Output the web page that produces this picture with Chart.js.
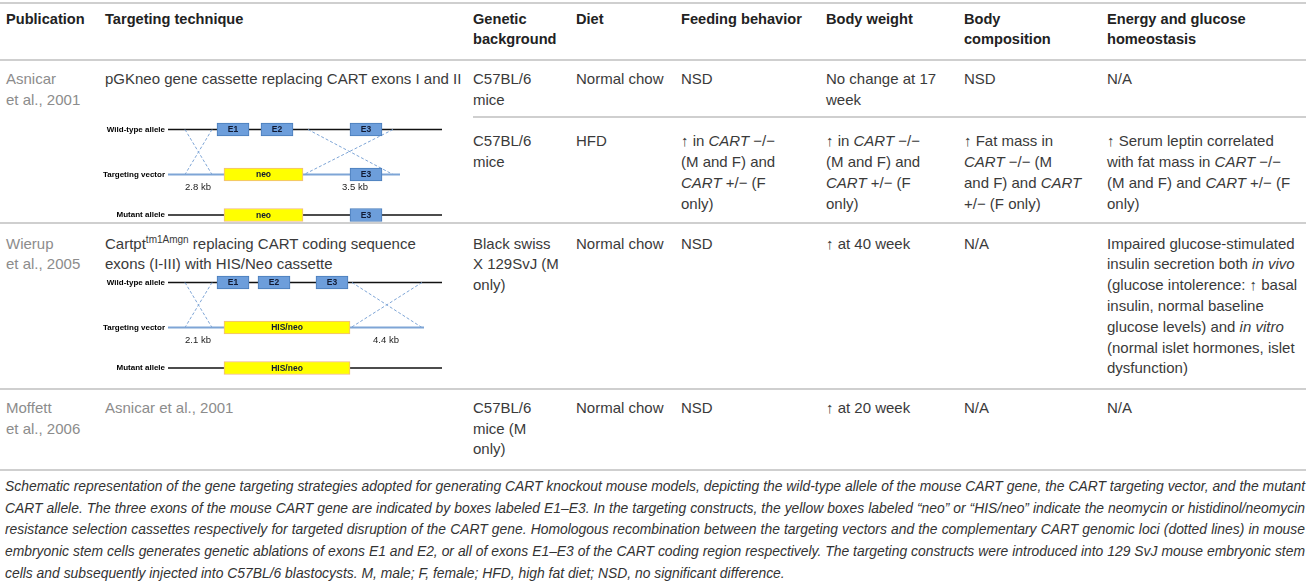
<!DOCTYPE html>
<html>
<head>
<meta charset="utf-8">
<script src="https://cdn.jsdelivr.net/npm/chart.js@4.4.0/dist/chart.umd.min.js"></script>
<style>
  body { margin: 0; background: #fff; width: 1308px; height: 583px; overflow: hidden;
         font-family: "Liberation Sans", Arial, sans-serif; color: #3a3a3a; }
  #page { position: relative; width: 1308px; height: 583px; }
  table { position: absolute; left: 0; top: 2px; width: 1306px; border-collapse: separate;
          border-spacing: 0; table-layout: fixed; font-size: 15px; line-height: 20.8px; }
  th, td { vertical-align: top; text-align: left; white-space: nowrap; padding: 0 6px 0 0;
           border-bottom: 2px solid #cfcfcf; }
  th { font-weight: bold; font-size: 14.6px; color: #222; border-top: 2px solid #cfcfcf; padding-top: 4.6px; }
  tr.hd { height: 59px; }
  tr.r1 { height: 57px; } tr.r1 td { padding-top: 7.9px; }
  tr.r2 { height: 106px; } tr.r2 td { padding-top: 13.3px; }
  tr.r3 { height: 166px; } tr.r3 td { padding-top: 9.6px; }
  tr.r4 { height: 81px; } tr.r4 td { padding-top: 7.9px; }
  .first { padding-left: 6px; }
  .pub { color: #8c8c8c; }
  sup { font-size: 10px; line-height: 0; vertical-align: 6px; }
  canvas.scheme { position: absolute; left: 100px; }
  #caption { position: absolute; left: 5px; top: 476px; font-size: 14px; font-style: italic;
             line-height: 21.65px; color: #333; transform-origin: 0 0; }
  #caption div { white-space: nowrap; }
</style>
</head>
<body>
<div id="page">
<table>
  <colgroup>
    <col style="width:105px"><col style="width:368px"><col style="width:103px"><col style="width:105px">
    <col style="width:145px"><col style="width:138px"><col style="width:143px"><col style="width:199px">
  </colgroup>
  <tr class="hd">
    <th class="first">Publication</th><th>Targeting technique</th><th>Genetic<br>background</th><th>Diet</th>
    <th>Feeding behavior</th><th>Body weight</th><th>Body<br>composition</th><th>Energy and glucose<br>homeostasis</th>
  </tr>
  <tr class="r1">
    <td class="first pub" rowspan="2">Asnicar<br>et al., 2001</td>
    <td rowspan="2">pGKneo gene cassette replacing CART exons I and II</td>
    <td>C57BL/6<br>mice</td><td>Normal chow</td><td>NSD</td><td>No change at 17<br>week</td><td>NSD</td><td>N/A</td>
  </tr>
  <tr class="r2">
    <td>C57BL/6<br>mice</td><td>HFD</td>
    <td>↑ in <i>CART</i> −/−<br>(M and F) and<br><i>CART</i> +/− (F<br>only)</td>
    <td>↑ in <i>CART</i> −/−<br>(M and F) and<br><i>CART</i> +/− (F<br>only)</td>
    <td>↑ Fat mass in<br><i>CART</i> −/− (M<br>and F) and <i>CART</i><br>+/− (F only)</td>
    <td>↑ Serum leptin correlated<br>with fat mass in <i>CART</i> −/−<br>(M and F) and <i>CART</i> +/− (F<br>only)</td>
  </tr>
  <tr class="r3">
    <td class="first pub">Wierup<br>et al., 2005</td>
    <td>Cartpt<sup>tm1Amgn</sup> replacing CART coding sequence<br>exons (I-III) with HIS/Neo cassette</td>
    <td>Black swiss<br>X 129SvJ (M<br>only)</td><td>Normal chow</td><td>NSD</td><td>↑ at 40 week</td><td>N/A</td>
    <td>Impaired glucose-stimulated<br>insulin secretion both <i>in vivo</i><br>(glucose intolerence: ↑ basal<br>insulin, normal baseline<br>glucose levels) and <i>in vitro</i><br>(normal islet hormones, islet<br>dysfunction)</td>
  </tr>
  <tr class="r4">
    <td class="first pub">Moffett<br>et al., 2006</td>
    <td class="pub">Asnicar et al., 2001</td>
    <td>C57BL/6<br>mice (M<br>only)</td><td>Normal chow</td><td>NSD</td><td>↑ at 20 week</td><td>N/A</td><td>N/A</td>
  </tr>
</table>

<canvas id="asnicarScheme" class="scheme" width="348" height="104" style="top:118px"></canvas>
<canvas id="wierupScheme" class="scheme" width="348" height="104" style="top:270.5px"></canvas>

<div id="caption">
  <div class="j">Schematic representation of the gene targeting strategies adopted for generating CART knockout mouse models, depicting the wild-type allele of the mouse CART gene, the CART targeting vector, and the mutant</div>
  <div class="j">CART allele. The three exons of the mouse CART gene are indicated by boxes labeled E1–E3. In the targeting constructs, the yellow boxes labeled “neo” or “HIS/neo” indicate the neomycin or histidinol/neomycin</div>
  <div class="j">resistance selection cassettes respectively for targeted disruption of the CART gene. Homologous recombination between the targeting vectors and the complementary CART genomic loci (dotted lines) in mouse</div>
  <div class="j">embryonic stem cells generates genetic ablations of exons E1 and E2, or all of exons E1–E3 of the CART coding region respectively. The targeting constructs were introduced into 129 SvJ mouse embryonic stem</div>
  <div>cells and subsequently injected into C57BL/6 blastocysts. M, male; F, female; HFD, high fat diet; NSD, no significant difference.</div>
</div>
</div>

<script>
// Allele rows (shared by both schematics)
const alleleRows = ['Wild-type allele', 'Targeting vector', 'Mutant allele'];
const rowPos = [0, 1, 1.9];

// Asnicar et al., 2001 - positions along the locus (arbitrary units)
const asnicarLines = [[0, 274], [0, 232], [0, 274]];
const asnicarExonSpans = [[49, 81], [93, 125], [182, 214], [182, 214], [182, 214]];
const asnicarExonRows = [0, 0, 0, 1, 2];
const asnicarExonLabels = ['E1', 'E2', 'E3', 'E3', 'E3'];
const asnicarCassetteSpans = [[56, 135], [56, 135]];
const asnicarCassetteRows = [1, 2];
const asnicarCassetteLabels = ['neo', 'neo'];
const asnicarCrossovers = [[17, 44], [44, 17], [140, 225], [225, 136]];
const asnicarArmLabels = ['2.8 kb', '3.5 kb'];
const asnicarArmPos = [30, 187];

// Wierup et al., 2005
const wierupLines = [[0, 274], [0, 256], [0, 274]];
const wierupExonSpans = [[49, 81], [90, 122], [148, 180]];
const wierupExonRows = [0, 0, 0];
const wierupExonLabels = ['E1', 'E2', 'E3'];
const wierupCassetteSpans = [[56, 182], [56, 182]];
const wierupCassetteRows = [1, 2];
const wierupCassetteLabels = ['HIS/neo', 'HIS/neo'];
const wierupCrossovers = [[17, 44], [44, 17], [184, 254], [254, 183]];
const wierupArmLabels = ['2.1 kb', '4.4 kb'];
const wierupArmPos = [30, 218];

const vectorBlue = '#7ea5d6';

// labels inside boxes and homology arm lengths
const schemeText = {
    id: 'schemeText',
    afterDatasetsDraw(chart, args, opts) {
        const ctx = chart.ctx;
        ctx.save();
        ctx.textAlign = 'center';
        ctx.textBaseline = 'middle';
        chart.data.datasets.forEach((ds, di) => {
            if (!ds.boxLabels) return;
            ctx.font = 'bold 8.5px "Liberation Sans", Arial, sans-serif';
            ctx.fillStyle = '#111a33';
            chart.getDatasetMeta(di).data.forEach((el, i) => {
                const c = el.getCenterPoint();
                ctx.fillText(ds.boxLabels[i], c.x, c.y + 0.5);
            });
        });
        ctx.font = '9.5px "Liberation Sans", Arial, sans-serif';
        ctx.fillStyle = '#222';
        const xs = chart.scales.x, ys = chart.scales.y;
        opts.armLabels.forEach((t, i) => {
            ctx.fillText(t, xs.getPixelForValue(opts.armPos[i]), ys.getPixelForValue(rowPos[1]) + 13);
        });
        ctx.restore();
    }
};

function drawScheme(canvasId, lines, exonSpans, exonRows, exonLabels,
                    cassetteSpans, cassetteRows, cassetteLabels, crossovers, armLabels, armPos) {
    const datasets = [];
    lines.forEach((span, r) => {
        datasets.push({
            type: 'line',
            data: [{x: span[0], y: rowPos[r]}, {x: span[1], y: rowPos[r]}],
            borderColor: r === 1 ? vectorBlue : '#111',
            borderWidth: r === 1 ? 2 : 1.6,
            pointRadius: 0,
            order: 3
        });
    });
    crossovers.forEach(c => {
        datasets.push({
            type: 'line',
            data: [{x: c[0], y: rowPos[0]}, {x: c[1], y: rowPos[1]}],
            borderColor: vectorBlue,
            borderWidth: 1,
            borderDash: [3, 2],
            pointRadius: 0,
            order: 2
        });
    });
    datasets.push({
        type: 'bar',
        indexAxis: 'y',
        grouped: false,
        data: exonSpans.map((sp, i) => ({x: sp, y: rowPos[exonRows[i]]})),
        boxLabels: exonLabels,
        backgroundColor: '#6d9edb',
        borderColor: '#4a7cba',
        borderWidth: 1,
        borderSkipped: false,
        barThickness: 13,
        order: 1
    });
    datasets.push({
        type: 'bar',
        indexAxis: 'y',
        grouped: false,
        data: cassetteSpans.map((sp, i) => ({x: sp, y: rowPos[cassetteRows[i]]})),
        boxLabels: cassetteLabels,
        backgroundColor: '#ffff00',
        borderColor: '#f1b985',
        borderWidth: 1,
        borderSkipped: false,
        barThickness: 13,
        order: 1
    });

    new Chart(document.getElementById(canvasId), {
        type: 'scatter',
        data: { datasets: datasets },
        plugins: [schemeText],
        options: {
            responsive: false,
            animation: false,
            events: [],
            layout: { padding: 0 },
            plugins: {
                legend: { display: false },
                tooltip: { enabled: false },
                schemeText: { armLabels: armLabels, armPos: armPos }
            },
            scales: {
                x: { type: 'linear', min: 0, max: 280, offset: false, display: false },
                y: {
                    type: 'linear',
                    reverse: true,
                    offset: false,
                    min: -0.256,
                    max: 2.056,
                    grid: { display: false, drawTicks: false },
                    border: { display: false },
                    afterBuildTicks: axis => { axis.ticks = rowPos.map(v => ({value: v})); },
                    afterFit: axis => { axis.width = 68; axis.paddingTop = 0; axis.paddingBottom = 0; },
                    ticks: {
                        autoSkip: false,
                        padding: 3,
                        color: '#000',
                        font: { family: 'Liberation Sans', size: 8, weight: 'bold' },
                        callback: (value, index) => alleleRows[index]
                    }
                }
            }
        }
    });
}

drawScheme('asnicarScheme', asnicarLines, asnicarExonSpans, asnicarExonRows, asnicarExonLabels,
    asnicarCassetteSpans, asnicarCassetteRows, asnicarCassetteLabels, asnicarCrossovers,
    asnicarArmLabels, asnicarArmPos);
drawScheme('wierupScheme', wierupLines, wierupExonSpans, wierupExonRows, wierupExonLabels,
    wierupCassetteSpans, wierupCassetteRows, wierupCassetteLabels, wierupCrossovers,
    wierupArmLabels, wierupArmPos);

// fit the caption to the page width, justified lines
const caption = document.getElementById('caption');
let maxW = 0;
caption.querySelectorAll('div').forEach(d => {
    d.style.display = 'inline-block';
    maxW = Math.max(maxW, d.getBoundingClientRect().width);
    d.style.display = 'block';
});
caption.querySelectorAll('div.j').forEach(d => {
    d.style.width = maxW + 'px';
    d.style.whiteSpace = 'normal';
    d.style.textAlign = 'justify';
    d.style.textAlignLast = 'justify';
});
caption.style.transform = 'scaleX(' + (1300 / maxW) + ')';
</script>
</body>
</html>
